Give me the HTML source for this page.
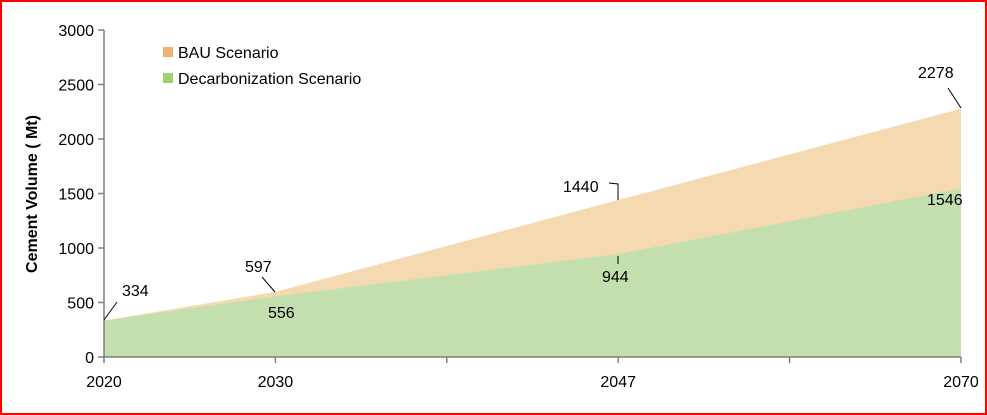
<!DOCTYPE html>
<html><head><meta charset="utf-8"><style>
body{margin:0;background:#fff}
svg{display:block;font-family:"Liberation Sans",sans-serif}
</style></head><body>
<svg width="987" height="415">
<rect x="1" y="1" width="985" height="413" fill="#fff" stroke="#f00" stroke-width="2"/>
<g id="plot"></g>
<g id="axes"></g>
<text transform="translate(37,194) rotate(-90)" text-anchor="middle" font-size="16" font-weight="bold" fill="#000">Cement Volume ( Mt)</text>
<g>
<rect x="163" y="47" width="10" height="10" fill="#f0b070"/>
<text x="178" y="58" font-size="16">BAU Scenario</text>
<rect x="163" y="73" width="10" height="10" fill="#9fcf70"/>
<text x="178" y="84" font-size="16">Decarbonization Scenario</text>
</g>
<g stroke="#000" stroke-width="1" fill="none">
<path d="M104,320 L117,302"/>
<path d="M262,277 L275,292"/>
<path d="M609,183 L618,184 L618,200"/>
<path d="M618,256 L618,264"/>
<path d="M948,88 L961,108"/>
</g>
<g font-size="16" fill="#000">
<text x="122" y="296">334</text>
<text x="245" y="272">597</text>
<text x="268" y="318">556</text>
<text x="563" y="192">1440</text>
<text x="602" y="282">944</text>
<text x="918" y="78">2278</text>
<text x="927" y="205">1546</text>
</g>
</svg>
<script>
const categoryLabels=["2020","2030","","2047","","2070"];
const pointIndex=[0,1,3,5];
const bauValues=[334,597,1440,2278];
const decarbValues=[334,556,944,1546];
const yTicks=[0,500,1000,1500,2000,2500,3000];
const X0=104,X1=961,Y0=357,Y1=30,YMAX=3000,N=categoryLabels.length-1;
const xs=i=>X0+(X1-X0)*i/N;
const ys=v=>Y0-(Y0-Y1)*v/YMAX;
const NS="http://www.w3.org/2000/svg";
const plot=document.getElementById('plot'),axes=document.getElementById('axes');
function area(vals,fill,name){
  let d=`M${xs(pointIndex[0])},${Y0}`;
  vals.forEach((v,i)=>{d+=` L${xs(pointIndex[i])},${ys(v)}`});
  d+=` L${xs(pointIndex[pointIndex.length-1])},${Y0} Z`;
  const p=document.createElementNS(NS,'path');
  p.setAttribute('d',d);p.setAttribute('fill',fill);
  
  
  plot.appendChild(p);
}
area(bauValues,'#f5d9b1','bau-area');
area(decarbValues,'#c3dfae','decarbonization-area');
function line(x1,y1,x2,y2,name){
  const l=document.createElementNS(NS,'line');
  l.setAttribute('x1',x1);l.setAttribute('y1',y1);l.setAttribute('x2',x2);l.setAttribute('y2',y2);
  l.setAttribute('stroke','#7f7f7f');l.setAttribute('stroke-width','1.5');
  
  
  axes.appendChild(l);
}
line(X0,Y0,X0,Y1,'y-axis');
line(X0,Y0,X1,Y0,'x-axis');
yTicks.forEach(v=>{
  line(X0-6,ys(v),X0,ys(v),'y-tick');
  const t=document.createElementNS(NS,'text');
  t.setAttribute('x',X0-10);t.setAttribute('y',ys(v)+6);
  t.setAttribute('text-anchor','end');t.setAttribute('font-size','16');
  t.textContent=v;
  
  
  axes.appendChild(t);
});
categoryLabels.forEach((c,i)=>{
  line(xs(i),Y0,xs(i),Y0+6,'x-tick');
  if(!c)return;
  const t=document.createElementNS(NS,'text');
  t.setAttribute('x',xs(i));t.setAttribute('y',Y0+30);
  t.setAttribute('text-anchor','middle');t.setAttribute('font-size','16');
  t.textContent=c;
  
  
  axes.appendChild(t);
});
</script>
</body></html>
